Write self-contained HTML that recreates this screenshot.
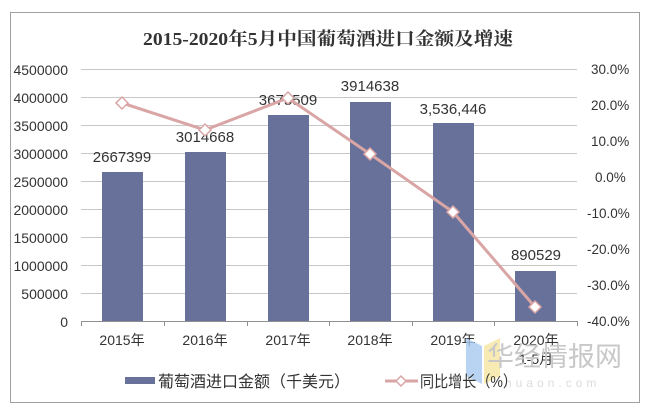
<!DOCTYPE html>
<html><head><meta charset="utf-8"><style>
html,body{margin:0;padding:0;background:#fff;}
svg{display:block;}
text{font-family:"Liberation Sans","Noto Sans CJK SC",sans-serif;fill:#333;}
</style></head><body>
<svg width="650" height="413" viewBox="0 0 650 413" xmlns="http://www.w3.org/2000/svg">
<rect x="10.5" y="12.5" width="629" height="390" fill="#fff" stroke="#a0a0a0" stroke-width="1"/>
<text x="143" y="45" font-size="18" font-weight="bold" textLength="370" lengthAdjust="spacingAndGlyphs" style="font-family:'Liberation Serif','Noto Serif CJK SC',serif" fill="#222">2015-2020年5月中国葡萄酒进口金额及增速</text>
<g stroke="#c8c8c8" stroke-width="1">
<line x1="81" y1="69.5" x2="577" y2="69.5"/><line x1="81" y1="97.5" x2="577" y2="97.5"/>
<line x1="81" y1="125.5" x2="577" y2="125.5"/><line x1="81" y1="153.5" x2="577" y2="153.5"/>
<line x1="81" y1="181.5" x2="577" y2="181.5"/><line x1="81" y1="209.5" x2="577" y2="209.5"/>
<line x1="81" y1="237.5" x2="577" y2="237.5"/><line x1="81" y1="265.5" x2="577" y2="265.5"/>
<line x1="81" y1="293.5" x2="577" y2="293.5"/>
</g>
<g fill="#67719a">
<rect x="102" y="172" width="41" height="149"/>
<rect x="185" y="152" width="41" height="169"/>
<rect x="268" y="115" width="41" height="206"/>
<rect x="350" y="102" width="41" height="219"/>
<rect x="433" y="123" width="41" height="198"/>
<rect x="515" y="271" width="41" height="50"/>
</g>
<g stroke="#909090" stroke-width="1">
<line x1="81" y1="321.5" x2="577" y2="321.5"/>
<line x1="81.5" y1="321" x2="81.5" y2="326"/><line x1="164.5" y1="321" x2="164.5" y2="326"/>
<line x1="247.5" y1="321" x2="247.5" y2="326"/><line x1="329.5" y1="321" x2="329.5" y2="326"/>
<line x1="412.5" y1="321" x2="412.5" y2="326"/><line x1="494.5" y1="321" x2="494.5" y2="326"/>
<line x1="577.5" y1="321" x2="577.5" y2="326"/>
</g>
<g font-size="14" text-anchor="end">
<text x="68" y="75">4500000</text><text x="68" y="103">4000000</text><text x="68" y="131">3500000</text>
<text x="68" y="159">3000000</text><text x="68" y="187">2500000</text><text x="68" y="215">2000000</text>
<text x="68" y="243">1500000</text><text x="68" y="271">1000000</text><text x="68" y="299">500000</text>
<text x="68" y="327">0</text>
</g>
<g font-size="13.5" text-anchor="start">
<text x="591" y="74">30.0%</text><text x="591" y="110">20.0%</text><text x="591" y="146">10.0%</text>
<text x="595" y="182">0.0%</text><text x="587" y="218">-10.0%</text><text x="587" y="254">-20.0%</text>
<text x="587" y="290">-30.0%</text><text x="587" y="326">-40.0%</text>
</g>
<g font-size="14" text-anchor="middle">
<text x="122" y="345">2015年</text><text x="205" y="345">2016年</text><text x="288" y="345">2017年</text>
<text x="370" y="345">2018年</text><text x="453" y="345">2019年</text><text x="536" y="345">2020年</text>
<text x="536" y="364">1-5月</text>
</g>
<g font-size="15" text-anchor="middle">
<text x="122" y="162">2667399</text><text x="205" y="142">3014668</text><text x="288" y="105">3675509</text>
<text x="370" y="91">3914638</text><text x="453" y="114">3,536,446</text><text x="536" y="260">890529</text>
</g>
<polyline points="122,103 205,130 288,98 370,154 453,212 535,307" fill="none" stroke="#d9a5a5" stroke-width="3"/>
<g fill="#fff" stroke="#d9a5a5" stroke-width="1.5">
<path d="M122 97 L128 103 L122 109 L116 103Z"/><path d="M205 124 L211 130 L205 136 L199 130Z"/>
<path d="M288 92 L294 98 L288 104 L282 98Z"/><path d="M370 148 L376 154 L370 160 L364 154Z"/>
<path d="M453 206 L459 212 L453 218 L447 212Z"/><path d="M535 301 L541 307 L535 313 L529 307Z"/>
</g>
<path d="M466 338 L482 346 L482 384 L466 376Z" fill="#a8c8f0" opacity="0.8"/>
<path d="M484 346 L500 338 L500 376 L484 384Z" fill="#f5e6a0" opacity="0.8"/>
<text x="487" y="366" font-size="27" style="fill:#c8c8c8">华经情报网</text>
<text x="505" y="387" font-size="12" style="fill:#dcdcdc" letter-spacing="4">huaon.com</text>
<rect x="125" y="377" width="30" height="7" fill="#67719a"/>
<text x="158" y="387" font-size="16" textLength="192" lengthAdjust="spacingAndGlyphs">葡萄酒进口金额（千美元）</text>
<line x1="385" y1="381" x2="418" y2="381" stroke="#d9a5a5" stroke-width="3"/>
<path d="M401 376 L406 381 L401 386 L396 381Z" fill="#fff" stroke="#d9a5a5" stroke-width="1.5"/>
<text x="420" y="387" font-size="16" textLength="97" lengthAdjust="spacingAndGlyphs">同比增长（%）</text>
</svg>
</body></html>
